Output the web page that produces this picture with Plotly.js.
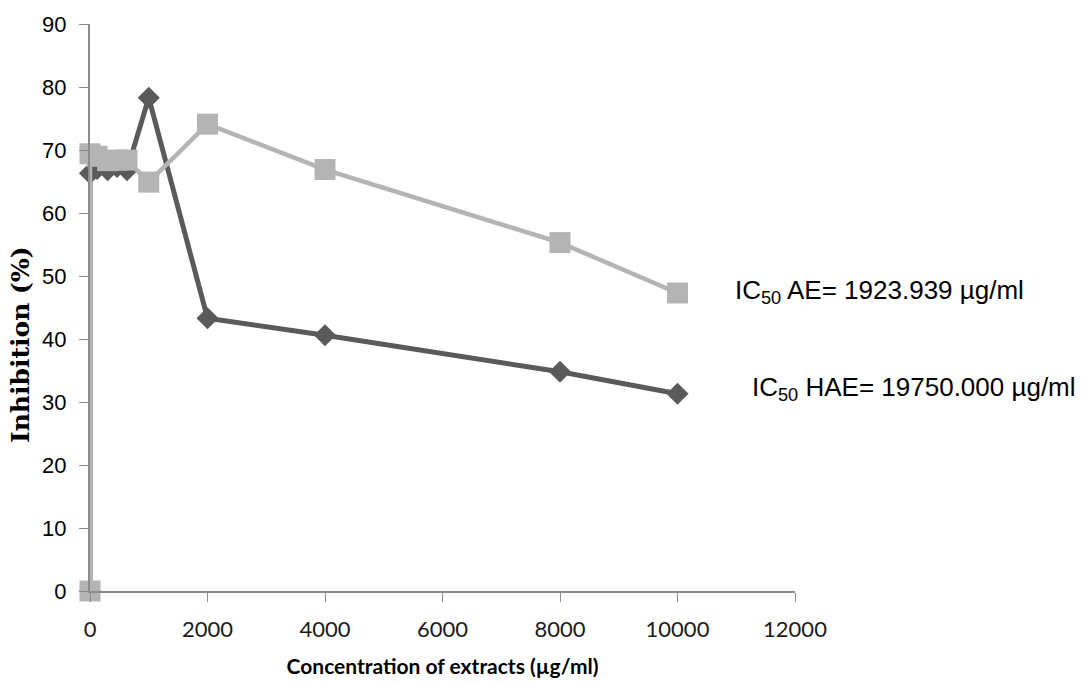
<!DOCTYPE html>
<html>
<head>
<meta charset="utf-8">
<script src="https://cdn.plot.ly/plotly-3.0.1.min.js"></script>
<style>html,body{margin:0;padding:0;background:#fff;}#chart{width:1083px;height:682px;}</style>
</head>
<body>
<div id="chart"></div>
<script>
// Concentrations (µg/ml)
const concHAE = [0, 0, 120, 300, 460, 630, 1000, 2000, 4000, 8000, 10000];
const inhibHAE = [0, 66.3, 67, 66.8, 67.3, 66.8, 78.3, 43.3, 40.6, 34.8, 31.3];
const concAE = [0, 0, 120, 300, 460, 630, 1000, 2000, 4000, 8000, 10000];
const inhibAE = [0, 69.4, 69, 68.3, 68.4, 68.4, 64.9, 74.1, 66.9, 55.3, 47.3];
const xTicks = [0, 2000, 4000, 6000, 8000, 10000, 12000];
const yTicks = [0, 10, 20, 30, 40, 50, 60, 70, 80, 90];
const yTitle = "<b>Inhibition (%)</b>";
const icLabels = ["IC<sub>50</sub> AE= 1923.939 µg/ml", "IC<sub>50</sub> HAE= 19750.000 µg/ml"];

const traces = [
  {x: concHAE, y: inhibHAE, name: "HAE", type: "scatter", mode: "lines+markers",
   line: {color: "#5a5a5a", width: 5},
   marker: {symbol: "diamond", size: 17, color: "#5a5a5a"}, cliponaxis: false},
  {x: concAE, y: inhibAE, name: "AE", type: "scatter", mode: "lines+markers",
   line: {color: "#b4b4b4", width: 4.5},
   marker: {symbol: "square", size: 21, color: "#b4b4b4"}, cliponaxis: false}
];

const W = 705, H = 567;
const layout = {
  width: 1083, height: 682,
  margin: {l: 90, r: 288, t: 24, b: 91, pad: 0},
  paper_bgcolor: "#fff", plot_bgcolor: "#fff",
  showlegend: false,
  xaxis: {
    range: [0, 12000], tickvals: xTicks, ticktext: xTicks.map(String),
    showgrid: false, zeroline: false, showline: true, linecolor: "#8c8c8c", linewidth: 2,
    ticks: "outside", ticklen: 9, tickcolor: "#8c8c8c", tickwidth: 1,
    ticklabelstandoff: 9,
    tickfont: {family: "Lato, 'Open Sans', sans-serif", size: 22, color: "#1a1a1a"},
    title: {text: "<b>Concentration of extracts (µg/ml)</b>", standoff: 18,
            font: {family: "Lato, 'Open Sans', sans-serif", size: 21, color: "#000"}}
  },
  yaxis: {
    range: [0, 90], tickvals: yTicks, ticktext: yTicks.map(String),
    showgrid: false, zeroline: false, showline: true, linecolor: "#8c8c8c", linewidth: 2,
    ticks: "outside", ticklen: 9, tickcolor: "#8c8c8c", tickwidth: 1,
    ticklabelstandoff: 8,
    tickfont: {family: "'Liberation Sans', Arial, sans-serif", size: 22, color: "#000"}
  },
  annotations: [
    {xref: "paper", yref: "paper", x: (20 - 90) / W, y: (591 - 345) / H, xanchor: "center", yanchor: "middle",
     text: yTitle, textangle: -90, showarrow: false,
     font: {family: "'DejaVu Serif', 'Liberation Serif', serif", size: 25, color: "#000"}},
    {xref: "paper", yref: "paper", x: (733 - 90) / W, y: (591 - 291) / H, xanchor: "left", yanchor: "middle",
     text: icLabels[0], showarrow: false,
     font: {family: "'Liberation Sans', Arial, sans-serif", size: 26, color: "#000"}},
    {xref: "paper", yref: "paper", x: (750 - 90) / W, y: (591 - 388) / H, xanchor: "left", yanchor: "middle",
     text: icLabels[1], showarrow: false,
     font: {family: "'Liberation Sans', Arial, sans-serif", size: 26, color: "#000"}}
  ]
};

Plotly.newPlot("chart", traces, layout, {displayModeBar: false, staticPlot: true});
</script>
</body>
</html>
